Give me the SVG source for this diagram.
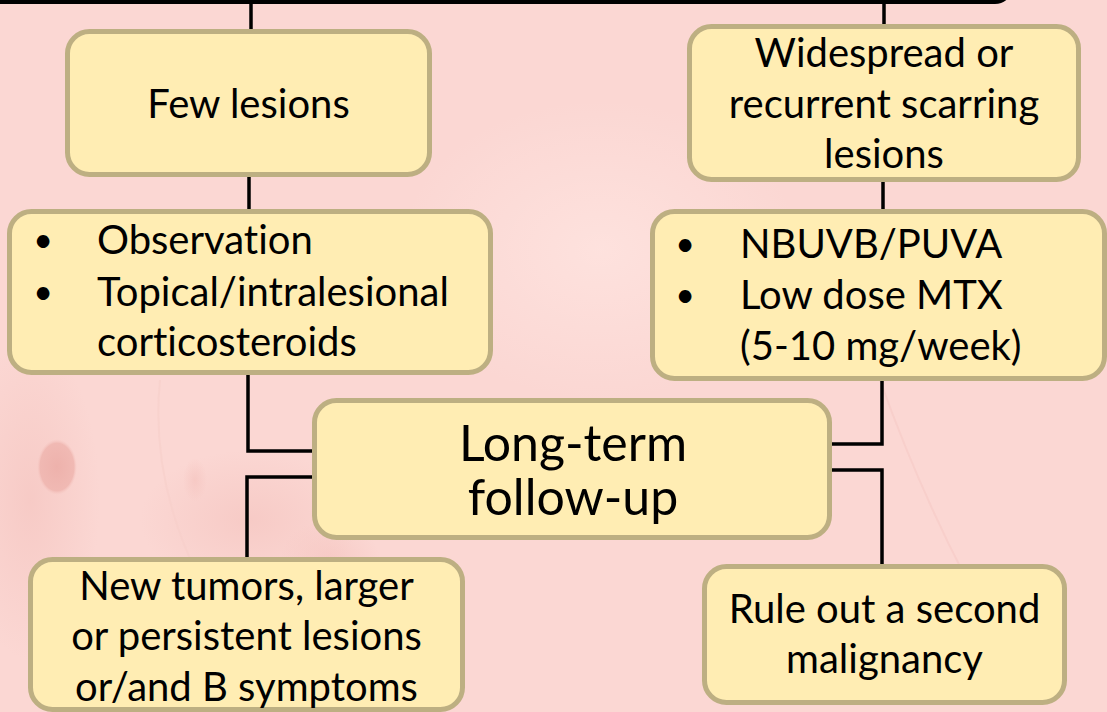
<svg xmlns="http://www.w3.org/2000/svg" width="1107" height="712" viewBox="0 0 1107 712">
  <defs>
    <radialGradient id="blob1" cx="0.5" cy="0.5" r="0.5">
      <stop offset="0" stop-color="#EDB0AA" stop-opacity="0.95"/>
      <stop offset="0.85" stop-color="#EFB5AF" stop-opacity="0.85"/>
      <stop offset="1" stop-color="#F6C8C3" stop-opacity="0"/>
    </radialGradient>
    <radialGradient id="soft" cx="0.5" cy="0.5" r="0.5">
      <stop offset="0" stop-color="#F4C2BD" stop-opacity="0.6"/>
      <stop offset="1" stop-color="#F4C2BD" stop-opacity="0"/>
    </radialGradient>
    <radialGradient id="light" cx="0.5" cy="0.5" r="0.5">
      <stop offset="0" stop-color="#FFE6E2" stop-opacity="0.7"/>
      <stop offset="1" stop-color="#FFE6E2" stop-opacity="0"/>
    </radialGradient>
  </defs>
  <style>
    .box { fill: #FFEDB3; stroke: #BDAF82; stroke-width: 5; }
    .conn { fill: none; stroke: #000000; stroke-width: 3.5; stroke-linejoin: miter; }
    .t { font-family: Lato, "Liberation Sans", sans-serif; font-size: 40px; fill: #000000; font-variant-ligatures: none; }
    .c { text-anchor: middle; }
    .big { font-size: 50px; }
    .b { font-size: 34px; }
  </style>

  <!-- background -->
  <rect x="0" y="0" width="1107" height="712" fill="#FBD7D3"/>
  <ellipse cx="30" cy="500" rx="70" ry="160" fill="url(#soft)"/>
  <ellipse cx="250" cy="520" rx="110" ry="70" fill="url(#soft)"/>
  <ellipse cx="330" cy="560" rx="50" ry="40" fill="url(#soft)"/>
  <ellipse cx="600" cy="250" rx="200" ry="150" fill="url(#light)"/>
  <ellipse cx="57" cy="467" rx="20" ry="28" fill="url(#blob1)"/>
  <ellipse cx="195" cy="480" rx="12" ry="22" fill="url(#soft)"/>
  <path d="M880,380 Q930,520 1000,640" fill="none" stroke="#F6CCC8" stroke-width="2" opacity="0.7"/>
  <path d="M160,380 Q150,480 200,580" fill="none" stroke="#F7CEC9" stroke-width="2" opacity="0.6"/>

  <!-- top box (mostly off-canvas) -->
  <g id="top-box">
    <rect x="-20" y="-60" width="1029" height="60" rx="14" fill="none" stroke="#000000" stroke-width="8"/>
  </g>

  <!-- connectors -->
  <g id="connectors">
    <path class="conn" d="M251,0 V31"/>
    <path class="conn" d="M884,0 V26"/>
    <path class="conn" d="M249,177 V211"/>
    <path class="conn" d="M883,182 V211"/>
    <path class="conn" d="M248,375 V451 H314"/>
    <path class="conn" d="M882,381 V444 H832"/>
    <path class="conn" d="M314,477 H247 V559"/>
    <path class="conn" d="M832,470 H882 V566"/>
  </g>

  <g id="few-lesions">
    <rect class="box" x="67.5" y="31.5" width="362" height="143" rx="22"/>
    <text class="t c" x="248.5" y="118">Few lesions</text>
  </g>

  <g id="widespread">
    <rect class="box" x="689.5" y="26.5" width="389" height="153" rx="22"/>
    <text class="t c" x="884" y="67">Widespread or</text>
    <text class="t c" x="884" y="118">recurrent scarring</text>
    <text class="t c" x="884" y="168">lesions</text>
  </g>

  <g id="observation">
    <rect class="box" x="9.5" y="211.5" width="481" height="161" rx="22"/>
    <text class="t c b" x="43" y="252">•</text>
    <text class="t" x="97" y="254">Observation</text>
    <text class="t c b" x="43" y="304">•</text>
    <text class="t" x="97" y="306">Topical/intralesional</text>
    <text class="t" x="97" y="356">corticosteroids</text>
  </g>

  <g id="phototherapy">
    <rect class="box" x="652.5" y="211.5" width="452" height="167" rx="22"/>
    <text class="t c b" x="685" y="256">•</text>
    <text class="t" x="740" y="258">NBUVB/PUVA</text>
    <text class="t c b" x="685" y="307">•</text>
    <text class="t" x="740" y="309">Low dose MTX</text>
    <text class="t" x="740" y="360">(5-10 mg/week)</text>
  </g>

  <g id="long-term">
    <rect class="box" x="314.5" y="400.5" width="515" height="137" rx="22"/>
    <text class="t c big" x="573" y="461">Long-term</text>
    <text class="t c big" x="573" y="515">follow-up</text>
  </g>

  <g id="new-tumors">
    <rect class="box" x="30.5" y="559.5" width="432" height="150" rx="22"/>
    <text class="t c" x="246.5" y="600">New tumors, larger</text>
    <text class="t c" x="246.5" y="650">or persistent lesions</text>
    <text class="t c" x="246.5" y="701">or/and B symptoms</text>
  </g>

  <g id="rule-out">
    <rect class="box" x="704.5" y="566.5" width="360" height="136" rx="22"/>
    <text class="t c" x="884.5" y="623">Rule out a second</text>
    <text class="t c" x="884.5" y="673">malignancy</text>
  </g>
</svg>
